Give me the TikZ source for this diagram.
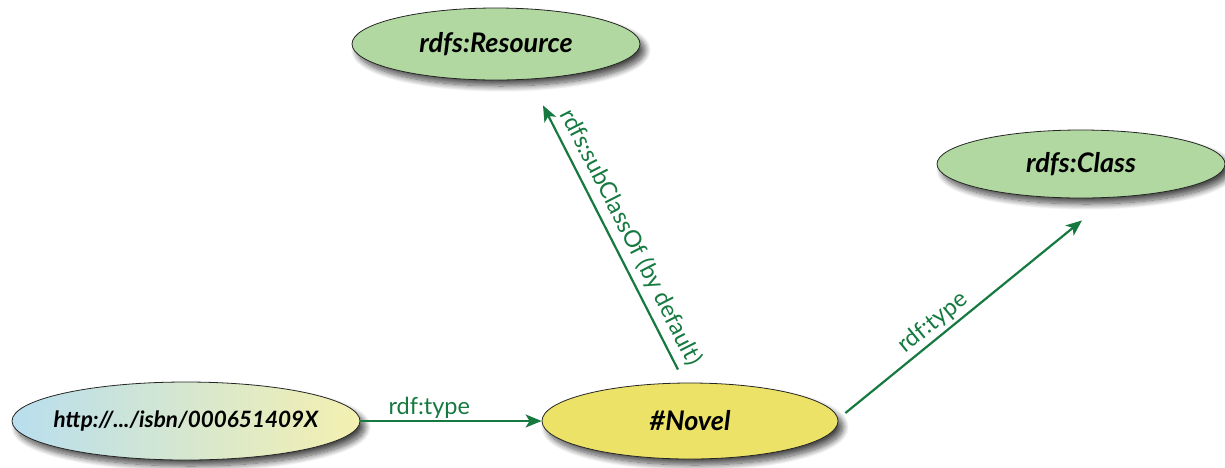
\documentclass[tikz,border=0pt]{standalone}
\usepackage{fontspec}
\setmainfont{Lato}
\usetikzlibrary{shapes.geometric,arrows.meta,shadows.blur,calc}
\definecolor{edgegreen}{RGB}{22,122,64}
\definecolor{classgreen}{RGB}{176,216,160}
\definecolor{novelyellow}{RGB}{236,226,104}
\definecolor{gradblue}{RGB}{184,222,238}
\definecolor{gradyellow}{RGB}{244,240,176}
\newcommand{\zw}[1]{\makebox[0pt]{#1}}
\begin{document}
\begin{tikzpicture}[x=1pt,y=-1pt,
  ell/.style={ellipse, draw=black!85, line width=0.8pt, inner sep=0pt,
    font=\bfseries\itshape\fontsize{27}{30}\selectfont,
    blur shadow={shadow xshift=5pt, shadow yshift=-6pt, shadow blur steps=12,
      shadow blur radius=6pt, shadow opacity=70}},
  rel/.style={draw=edgegreen, line width=2.2pt,
    -{Stealth[length=16pt,width=13pt,inset=4pt]}},
  lbl/.style={text=edgegreen, font=\fontsize{23.5}{26}\selectfont, inner sep=1.5pt}]
\useasboundingbox (0,0) rectangle (1225,467);
\node[ell, minimum width=348pt, minimum height=78pt, left color=gradblue,
  right color=gradyellow, font=\bfseries\itshape\fontsize{22.5}{26}\selectfont]
  (uri) at (186,421) {\zw{http://.../isbn/000651409X}};
\node[ell, minimum width=296pt, minimum height=76pt, fill=novelyellow] (novel)
  at (690,421) {\zw{\#Novel}};
\node[ell, minimum width=288pt, minimum height=72pt, fill=classgreen] (resource)
  at (496,44) {\zw{rdfs:Resource}};
\node[ell, minimum width=288pt, minimum height=68pt, fill=classgreen] (class)
  at (1081,164) {\zw{rdfs:Class}};
\coordinate (subtail) at ($(novel.north)+(-12,-13)$);
\coordinate (subtip) at ($(resource.south)+(47,25)$);
\coordinate (typetail) at ($(novel.east)+(7,-8)$);
\coordinate (typetip) at ($(class.south)+(1,22)$);
\draw[rel] (uri) -- (novel) node[lbl, pos=0.38, above] {rdf:type};
\draw[rel] (subtail) -- (subtip)
  node[lbl, pos=0.47, sloped, above, inner sep=6pt] {rdfs:subClassOf (by default)};
\draw[rel] (typetail) -- (typetip)
  node[lbl, pos=0.41, sloped, above, inner sep=3pt] {rdf:type};
\end{tikzpicture}
\end{document}
